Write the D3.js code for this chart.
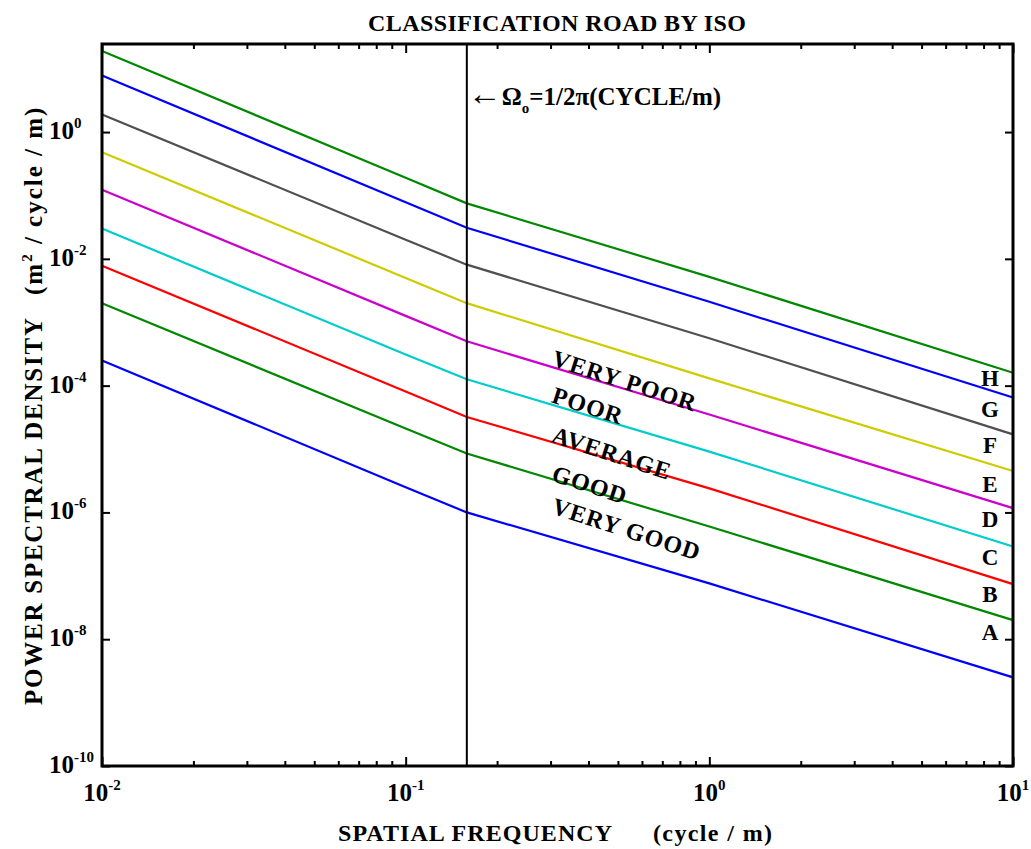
<!DOCTYPE html>
<html>
<head>
<meta charset="utf-8">
<script src="https://cdn.jsdelivr.net/npm/d3@7"></script>
<style>
  body { margin: 0; background: #fff; }
  text { font-family: "Liberation Serif", "Times New Roman", serif; font-weight: bold; fill: #000; }
</style>
</head>
<body>
<div id="chart"></div>
<script>
const svgWidth = 1031
const svgHeight = 849
const margin = { top: 44, right: 18, bottom: 83, left: 102 }
const chartWidth = svgWidth - margin.left - margin.right
const chartHeight = svgHeight - margin.top - margin.bottom

// spatial frequency (cycle/m) where values were read
const freq = [0.01, 0.1, 0.159, 1, 10]
const omega0 = 0.159

// class limit lines, bottom to top (m^2 / cycle / m)
const limitLow = [2.5e-4, 2.5e-6, 1.0e-6, 7.6e-8, 2.5e-9]
const limitAB = [2.0e-3, 2.1e-5, 8.5e-6, 6.0e-7, 2.0e-8]
const limitBC = [7.8e-3, 8.1e-5, 3.2e-5, 2.4e-6, 7.4e-8]
const limitCD = [3.0e-2, 3.1e-4, 1.26e-4, 9.1e-6, 2.9e-7]
const limitDE = [1.23e-1, 1.26e-3, 5.0e-4, 3.5e-5, 1.17e-6]
const limitEF = [4.8e-1, 5.0e-3, 2.0e-3, 1.3e-4, 4.5e-6]
const limitFG = [1.9, 2.0e-2, 8.1e-3, 5.6e-4, 1.7e-5]
const limitGH = [7.8, 7.8e-2, 3.1e-2, 2.1e-3, 6.5e-5]
const limitHigh = [19, 1.9e-1, 7.5e-2, 5.2e-3, 1.6e-4]

const series = [limitLow, limitAB, limitBC, limitCD, limitDE, limitEF, limitFG, limitGH, limitHigh]
const colors = ["#0000ff", "#008800", "#ff0000", "#00cccc", "#cc00cc", "#cccc00", "#505050", "#0000ff", "#008800"]

const xTicks = [0.01, 0.1, 1, 10]
const xTickExp = ["-2", "-1", "0", "1"]
const yTicks = [1, 1e-2, 1e-4, 1e-6, 1e-8, 1e-10]
const yTickExp = ["0", "-2", "-4", "-6", "-8", "-10"]

// class letters on the right side
const classLetters = ["H", "G", "F", "E", "D", "C", "B", "A"]
const classLetterY = [1.32e-4, 4.3e-5, 1.15e-5, 2.8e-6, 7.9e-7, 2.0e-7, 5.1e-8, 1.3e-8]
const classLetterX = 8.4

// condition labels along the lines
const condNames = ["VERY POOR", "POOR", "AVERAGE", "GOOD", "VERY GOOD"]
const condY = [2.1e-4, 5.5e-5, 1.3e-5, 3.2e-6, 9.8e-7]
const condX = 0.3

const svg = d3.select("#chart").append("svg")
  .attr("width", svgWidth)
  .attr("height", svgHeight)

svg.append("rect").attr("width", svgWidth).attr("height", svgHeight).attr("fill", "#fff")

const chartG = svg.append("g")
  .attr("transform", `translate(${margin.left}, ${margin.top})`)

const x = d3.scaleLog().domain([0.01, 10]).range([0, chartWidth])
const y = d3.scaleLog().domain([1e-10, 24.5]).range([chartHeight, 0])

const xMinor = x.ticks().filter(v => !xTicks.some(t => Math.abs(t - v) / t < 1e-6))

function styleAxis(g) {
  g.select(".domain").remove()
  g.selectAll(".tick line").attr("stroke", "#000").attr("stroke-width", 2)
}

// major / minor x ticks, bottom and top, pointing inward
chartG.append("g").attr("transform", `translate(0, ${chartHeight})`)
  .call(d3.axisBottom(x).tickValues(xTicks).tickSize(-9).tickFormat("")).call(styleAxis)
chartG.append("g").attr("transform", `translate(0, ${chartHeight})`)
  .call(d3.axisBottom(x).tickValues(xMinor).tickSize(-5).tickFormat("")).call(styleAxis)
chartG.append("g")
  .call(d3.axisTop(x).tickValues(xTicks).tickSize(-9).tickFormat("")).call(styleAxis)
chartG.append("g")
  .call(d3.axisTop(x).tickValues(xMinor).tickSize(-5).tickFormat("")).call(styleAxis)

chartG.append("g")
  .call(d3.axisLeft(y).tickValues(yTicks).tickSize(-8).tickFormat("")).call(styleAxis)
chartG.append("g").attr("transform", `translate(${chartWidth}, 0)`)
  .call(d3.axisRight(y).tickValues(yTicks).tickSize(-8).tickFormat("")).call(styleAxis)

// lines
const line = d3.line()
  .x((d, i) => x(freq[i]))
  .y(d => y(d))

chartG.selectAll(".psd")
  .data(series)
  .enter()
  .append("path")
  .attr("class", "psd")
  .attr("d", d => line(d))
  .attr("fill", "none")
  .attr("stroke", (d, i) => colors[i])
  .attr("stroke-width", 2.2)

// omega0 line
chartG.append("line")
  .attr("x1", x(omega0)).attr("x2", x(omega0))
  .attr("y1", 0).attr("y2", chartHeight)
  .attr("stroke", "#000").attr("stroke-width", 2)

// frame
chartG.append("rect")
  .attr("width", chartWidth).attr("height", chartHeight)
  .attr("fill", "none").attr("stroke", "#000").attr("stroke-width", 3)

// x tick labels
const xLab = chartG.selectAll(".xlab").data(xTicks).enter().append("text")
  .attr("class", "xlab")
  .attr("x", d => x(d))
  .attr("y", chartHeight + 35)
  .attr("text-anchor", "middle")
  .attr("font-size", 25)
xLab.append("tspan").text("10")
xLab.append("tspan").attr("dy", -11).attr("font-size", 15).text((d, i) => xTickExp[i])

// y tick labels
const yLab = chartG.selectAll(".ylab").data(yTicks).enter().append("text")
  .attr("class", "ylab")
  .attr("x", -53)
  .attr("y", d => y(d) + 7)
  .attr("font-size", 25)
yLab.append("tspan").text("10")
yLab.append("tspan").attr("dy", -11).attr("font-size", 15).text((d, i) => yTickExp[i])

// class letters
chartG.selectAll(".cls").data(classLetters).enter().append("text")
  .attr("class", "cls")
  .attr("x", x(classLetterX))
  .attr("y", (d, i) => y(classLetterY[i]))
  .attr("dy", "0.35em")
  .attr("text-anchor", "middle")
  .attr("font-size", 23)
  .text(d => d)

// condition labels
chartG.selectAll(".cond").data(condNames).enter().append("text")
  .attr("class", "cond")
  .attr("transform", (d, i) => `translate(${x(condX)}, ${y(condY[i])}) rotate(18)`)
  .attr("font-size", 24)
  .attr("letter-spacing", 1)
  .text(d => d)

// omega0 annotation
const note = chartG.append("text")
  .attr("x", x(omega0) + 1)
  .attr("y", 61)
  .attr("font-size", 25)
note.append("tspan").attr("font-size", 34).attr("font-weight", "normal").text("\u2190")
note.append("tspan").text("\u03A9")
note.append("tspan").attr("dy", 8).attr("font-size", 15).text("o")
note.append("tspan").attr("dy", -8).text("=1/2\u03C0(CYCLE/m)")

// titles
svg.append("text")
  .attr("x", 557).attr("y", 31)
  .attr("text-anchor", "middle")
  .attr("font-size", 24)
  .attr("textLength", 378)
  .text("CLASSIFICATION ROAD BY ISO")

svg.append("text")
  .attr("x", 338).attr("y", 841)
  .attr("font-size", 24)
  .attr("textLength", 274)
  .text("SPATIAL  FREQUENCY")

svg.append("text")
  .attr("x", 653).attr("y", 841)
  .attr("font-size", 24)
  .attr("textLength", 119)
  .text("(cycle / m)")

svg.append("text")
  .attr("transform", "translate(42, 705) rotate(-90)")
  .attr("font-size", 25)
  .attr("textLength", 387)
  .text("POWER SPECTRAL DENSITY")

const yUnit = svg.append("text")
  .attr("transform", "translate(42, 295) rotate(-90)")
  .attr("font-size", 25)
  .attr("letter-spacing", 2)
  .style("white-space", "pre")
yUnit.append("tspan").text("(m")
yUnit.append("tspan").attr("dy", -10).attr("font-size", 15).text("2")
yUnit.append("tspan").attr("dy", 10).text(" / cycle / m)")
</script>
</body>
</html>
